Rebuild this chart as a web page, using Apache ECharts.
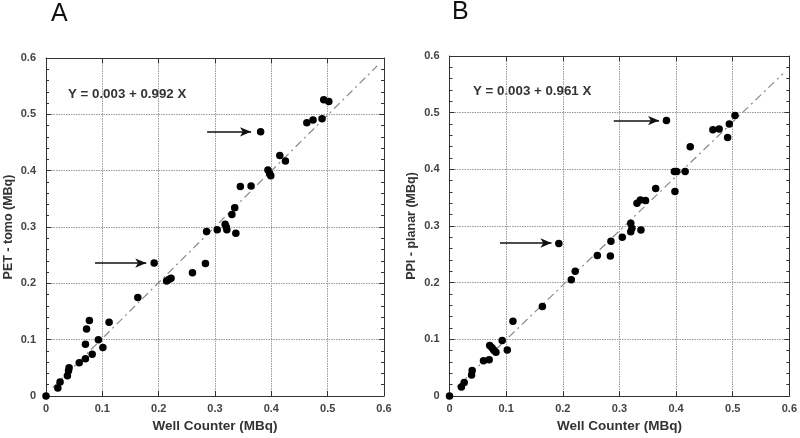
<!DOCTYPE html>
<html><head><meta charset="utf-8">
<script src="https://cdn.jsdelivr.net/npm/echarts@6/dist/echarts.min.js"></script>
<style>html,body{margin:0;padding:0;background:#fff}#c{width:800px;height:438px}</style>
</head><body><div id="c"></div>
<script>
// Panel A: Well Counter (MBq) vs PET - tomo (MBq)
const pointsA = [[0,0],[0.021,0.014],[0.025,0.025],[0.038,0.036],[0.040,0.045],[0.041,0.050],[0.059,0.059],[0.070,0.066],[0.082,0.074],[0.070,0.092],[0.093,0.100],[0.101,0.086],[0.072,0.119],[0.077,0.134],[0.112,0.131],[0.163,0.175],[0.192,0.236],[0.214,0.204],[0.218,0.207],[0.222,0.209],[0.260,0.219],[0.283,0.235],[0.285,0.292],[0.304,0.295],[0.318,0.305],[0.320,0.300],[0.321,0.295],[0.337,0.289],[0.330,0.322],[0.335,0.334],[0.345,0.372],[0.364,0.373],[0.381,0.469],[0.394,0.401],[0.397,0.395],[0.399,0.391],[0.415,0.427],[0.425,0.417],[0.463,0.485],[0.474,0.490],[0.490,0.492],[0.493,0.526],[0.502,0.523]];
// Panel B: Well Counter (MBq) vs PPI - planar (MBq)
const pointsB = [[0,0],[0.021,0.016],[0.026,0.024],[0.039,0.037],[0.040,0.045],[0.060,0.062],[0.070,0.064],[0.071,0.089],[0.075,0.085],[0.078,0.081],[0.082,0.077],[0.093,0.098],[0.102,0.081],[0.112,0.132],[0.164,0.158],[0.193,0.269],[0.215,0.205],[0.222,0.220],[0.261,0.248],[0.284,0.247],[0.285,0.273],[0.305,0.280],[0.320,0.305],[0.320,0.290],[0.322,0.296],[0.338,0.293],[0.331,0.340],[0.337,0.346],[0.346,0.345],[0.364,0.366],[0.383,0.486],[0.397,0.396],[0.401,0.396],[0.416,0.396],[0.398,0.361],[0.425,0.440],[0.465,0.470],[0.476,0.471],[0.491,0.456],[0.494,0.480],[0.504,0.495]];
// Fitted lines (endpoints)
const fitA = [[0.012,0.015],[0.588,0.586]];
const fitB = [[0.013,0.016],[0.589,0.569]];
// Arrows: [startX, endX, y]
const arrowsA = [[0.087,0.178,0.236],[0.286,0.364,0.469]];
const arrowsB = [[0.089,0.180,0.270],[0.290,0.370,0.486]];
const equationA = 'Y = 0.003 + 0.992 X';
const equationB = 'Y = 0.003 + 0.961 X';
const panelLabels = ['A','B'];
const xTitle = 'Well Counter (MBq)';
const yTitles = ['PET - tomo (MBq)','PPI - planar (MBq)'];
const axisMin = 0, axisMax = 0.6, axisStep = 0.1;

const FONT = 'Liberation Sans, Arial, sans-serif';
const chart = echarts.init(document.getElementById('c'), null, {renderer:'canvas'});
const fmt = v => v === 0 ? '0' : String(+v.toFixed(1));

function xAx(grid, main){
  return {
    type:'value', gridIndex:grid, min:axisMin, max:axisMax, interval:axisStep,
    position: main ? 'bottom' : 'top',
    name: main ? xTitle : '', nameLocation:'middle', nameGap:23,
    nameTextStyle:{fontFamily:FONT, fontWeight:'bold', fontSize:13.5, color:'#333'},
    axisLine:{show:true, onZero:false, lineStyle:{color:'#333', width:1}},
    axisTick:{show:true, inside:true, length:5, lineStyle:{color:'#333'}},
    axisLabel:{show:main, margin:7, formatter:fmt, fontFamily:FONT, fontWeight:'bold', fontSize:11, color:'#444'},
    splitLine:{show:main, lineStyle:{type:[1.5,1], color:'#999', width:1}}
  };
}
function yAx(grid, main, title){
  return {
    type:'value', gridIndex:grid, min:axisMin, max:axisMax, interval:axisStep,
    position: main ? 'left' : 'right',
    name: main ? title : '', nameLocation:'middle', nameGap:31,
    nameTextStyle:{fontFamily:FONT, fontWeight:'bold', fontSize:12.5, color:'#333'},
    axisLine:{show:true, onZero:false, lineStyle:{color:'#333', width:1}},
    axisTick:{show:true, inside:true, length:5, lineStyle:{color:'#333'}},
    minorTick:{show:true, splitNumber:5, length:3, lineStyle:{color:'#333'}},
    axisLabel:{show:main, margin:10, formatter:fmt, fontFamily:FONT, fontWeight:'bold', fontSize:11, color:'#444'},
    splitLine:{show:main, lineStyle:{type:[1.5,1], color:'#999', width:1}}
  };
}
function arrowData(arr){
  return arr.map(a => [{coord:[a[0],a[2]]},{coord:[a[1],a[2]]}]);
}
function panelSeries(idx, pts, fit, arrows){
  return [
    {type:'line', xAxisIndex:idx*2, yAxisIndex:idx*2, data:fit, symbol:'none', silent:true,
     lineStyle:{color:'#888', width:1.2, type:[8,4,2,4]}, z:2},
    {type:'scatter', xAxisIndex:idx*2, yAxisIndex:idx*2, data:pts, symbol:'circle', symbolSize:7.5,
     itemStyle:{color:'#000', opacity:1}, z:3,
     markLine:{silent:true, symbol:['none','arrow'], symbolSize:[7,11], label:{show:false},
       lineStyle:{color:'#111', width:1.5, type:'solid', opacity:1}, data:arrowData(arrows)}}
  ];
}

chart.setOption({
  animation:false,
  backgroundColor:'#fff',
  grid:[
    {left:46, top:58, width:338, height:339.5},
    {left:449.5, top:56, width:340, height:341}
  ],
  xAxis:[xAx(0,true), xAx(0,false), xAx(1,true), xAx(1,false)],
  yAxis:[yAx(0,true,yTitles[0]), yAx(0,false), yAx(1,true,yTitles[1]), yAx(1,false)],
  series:[].concat(panelSeries(0,pointsA,fitA,arrowsA), panelSeries(1,pointsB,fitB,arrowsB)),
  graphic:[
    {type:'text', left:51, top:2, style:{text:panelLabels[0], font:'25px '+FONT, fill:'#111'}},
    {type:'text', left:452, top:0, style:{text:panelLabels[1], font:'25px '+FONT, fill:'#111'}},
    {type:'text', left:68, top:88, style:{text:equationA, font:'bold 13.3px '+FONT, fill:'#333'}},
    {type:'text', left:473, top:85, style:{text:equationB, font:'bold 13.3px '+FONT, fill:'#333'}}
  ]
});
</script></body></html>
